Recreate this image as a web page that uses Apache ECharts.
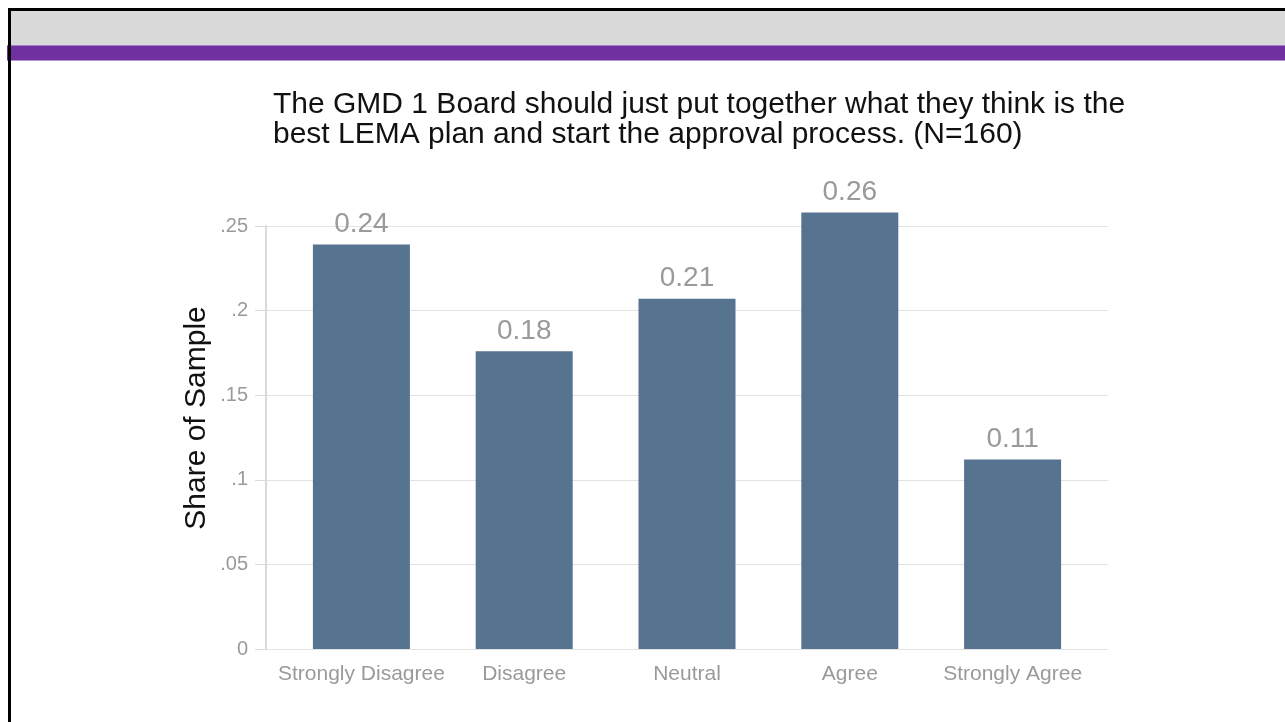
<!DOCTYPE html>
<html>
<head>
<meta charset="utf-8">
<script src="https://cdn.jsdelivr.net/npm/echarts@6/dist/echarts.min.js"></script>
<style>
  html, body { margin: 0; padding: 0; background: #fff; }
  body { width: 1285px; height: 722px; position: relative; overflow: hidden; }
  .top-bar { position: absolute; left: 10px; top: 10px; width: 1275px; height: 35px; background: #d9d9d9; }
  .purple-bar { position: absolute; left: 7px; top: 45px; width: 1278px; height: 16px; background: #7030a0;
    border-top: 1px solid #a77fc6; border-bottom: 1px solid #b594cf; box-sizing: border-box; }
  .frame { position: absolute; left: 8px; top: 8px; width: 1290px; height: 730px;
    border-left: 3px solid #000; border-top: 3px solid #000; box-sizing: border-box; }
  #chart { position: absolute; left: 0; top: 0; width: 1285px; height: 722px; }
</style>
</head>
<body>
<div class="top-bar"></div>
<div class="purple-bar"></div>
<div class="frame"></div>
<div id="chart"></div>
<script>
// survey answers, share of sample
var categories = ['Strongly Disagree', 'Disagree', 'Neutral', 'Agree', 'Strongly Agree'];
var shares = [0.239, 0.176, 0.207, 0.258, 0.112];
var yTicks = ['0', '.05', '.1', '.15', '.2', '.25'];

var grey = '#9a9a9a';
var font = '"Liberation Sans", Arial, sans-serif';
var chart = echarts.init(document.getElementById('chart'));
var option = {
    animation: false,
    textStyle: { fontFamily: font },
    title: {
        text: 'The GMD 1 Board should just put together what they think is the\nbest LEMA plan and start the approval process. (N=160)',
        left: 268,
        top: 85,
        textStyle: { fontSize: 30, fontWeight: 'normal', color: '#111', lineHeight: 30, fontFamily: font }
    },
    graphic: [{
        type: 'text',
        x: 197,
        y: 418,
        rotation: Math.PI / 2,
        style: {
            text: 'Share of Sample',
            fill: '#111',
            fontSize: 30,
            fontFamily: font,
            align: 'center',
            verticalAlign: 'middle'
        }
    }],
    grid: [
        { left: 266, right: 177, top: 226, bottom: 73 },
        { left: 280, right: 191, top: 226, bottom: 73 }
    ],
    xAxis: [
        { gridIndex: 0, type: 'category', data: categories, show: false },
        {
            gridIndex: 1,
            type: 'category',
            data: categories,
            axisLine: { show: false },
            axisTick: { show: false },
            axisLabel: { color: grey, fontSize: 21, margin: 15, interval: 0, fontFamily: font }
        }
    ],
    yAxis: [
        {
            gridIndex: 0,
            type: 'value',
            min: 0,
            max: 0.25,
            interval: 0.05,
            axisLine: { show: true, lineStyle: { color: '#dadada', width: 2 } },
            axisTick: { show: true, length: 11, lineStyle: { color: '#dadada' } },
            splitLine: { lineStyle: { color: '#e2e2e2', width: 1 } },
            axisLabel: {
                color: grey,
                fontSize: 20,
                margin: 18,
                fontFamily: font,
                formatter: function (v) { return yTicks[Math.round(v / 0.05)]; }
            }
        },
        { gridIndex: 1, type: 'value', min: 0, max: 0.25, show: false }
    ],
    series: [{
        type: 'bar',
        xAxisIndex: 1,
        yAxisIndex: 1,
        data: shares,
        barWidth: 97,
        clip: false,
        itemStyle: { color: '#56738f' },
        label: {
            show: true,
            position: 'top',
            distance: 6,
            color: grey,
            fontSize: 28,
            fontFamily: font,
            formatter: function (p) { return p.value.toFixed(2); }
        }
    }]
};
chart.setOption(option);
</script>
</body>
</html>
